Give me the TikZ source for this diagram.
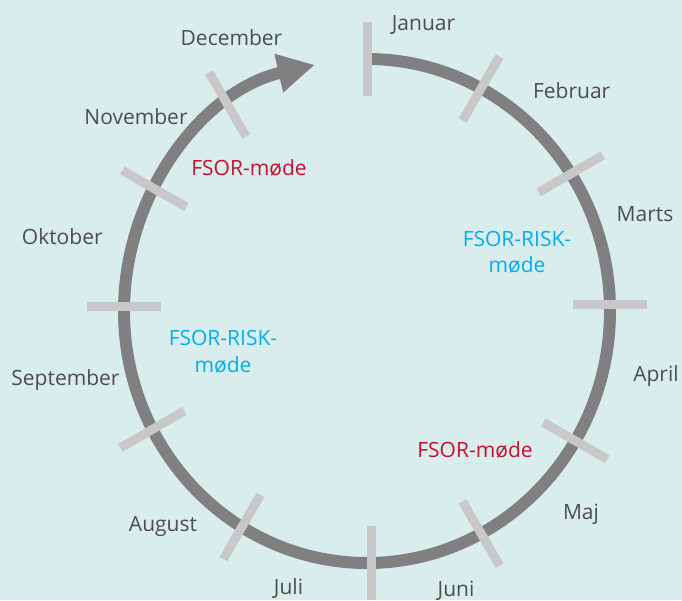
\documentclass[tikz,border=0pt]{standalone}
\usepackage{fontspec}
\setmainfont{Open Sans}
\usepackage{tikz}
\usetikzlibrary{arrows.meta}
\definecolor{bgteal}{RGB}{217,238,236}
\definecolor{ringgray}{RGB}{128,128,128}
\definecolor{tickgray}{RGB}{200,200,200}
\definecolor{labelgray}{RGB}{77,77,77}
\definecolor{fsorred}{RGB}{200,16,46}
\definecolor{riskblue}{RGB}{0,174,239}
\tikzset{
  month/.style={anchor=base, inner sep=0pt, text=labelgray, font=\fontsize{21}{26.3}\selectfont},
  meeting/.style={inner sep=0pt, align=center, font=\fontsize{21}{26.3}\selectfont},
  monthtick/.style={tickgray, line width=9pt}
}

\begin{document}
\begin{tikzpicture}[x=1pt,y=1pt]
      \path[use as bounding box, fill=bgteal] (-367,311) rectangle (315,-289);
      % the year wheel
      \draw[ringgray, line width=12pt, -{Triangle[length=37pt,width=37pt]}]
        (90:243 and 252) arc[start angle=90, end angle=-257.6, x radius=243, y radius=252];
      \foreach \a/\d in {90/90, 62/60, 33/30, 1.5/0, -31/-30, -62/-60, -89/-90, -121/-120, -152/-150, 179/180, 151/150, 125/120}
        \draw[monthtick] (\a:243 and 252) ++(\d:37) -- ++(\d:-74);
      % months
      \node[month] (jan) at (56.5,280.3) {Januar};
      \node[month] (feb) at (204.7,212) {Februar};
      \node[month] (mar) at (278,89.3) {Marts};
      \node[month] (apr) at (289,-70.7) {April};
      \node[month] (maj) at (214,-208.3) {Maj};
      \node[month] (jun) at (89,-285) {Juni};
      \node[month] (jul) at (-78.5,-283) {Juli};
      \node[month] (aug) at (-204,-220.7) {August};
      \node[month] (sep) at (-301.5,-74) {September};
      \node[month] (okt) at (-304.7,67) {Oktober};
      \node[month] (nov) at (-231,186.7) {November};
      \node[month] (dec) at (-135.5,265) {December};
      % meetings
      \node[meeting, anchor=base, text=fsorred] (fsortop) at (-118,136) {FSOR-møde};
      \node[meeting, text=riskblue] (riskright) at (150,58.7) {FSOR-RISK-\\møde};
      \node[meeting, text=riskblue] (riskleft) at (-144,-40.7) {FSOR-RISK-\\møde};
      \node[meeting, anchor=base, text=fsorred] (fsorbottom) at (108,-146.7) {FSOR-møde};
    \end{tikzpicture}
\end{document}
